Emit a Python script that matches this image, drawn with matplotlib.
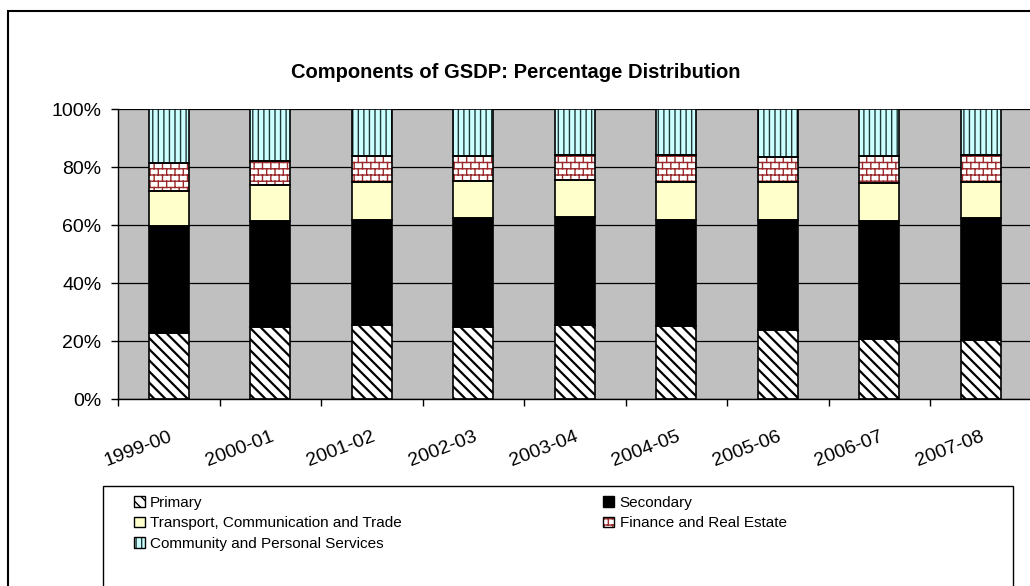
import numpy as np
import matplotlib
matplotlib.use("Agg")
import matplotlib.pyplot as plt
from matplotlib import hatch as mhatch
from matplotlib.patches import Patch, Rectangle
from matplotlib.path import Path

# shares of GSDP (%)
years = ["1999-00", "2000-01", "2001-02", "2002-03", "2003-04",
         "2004-05", "2005-06", "2006-07", "2007-08"]
primary = [22.9, 24.8, 25.6, 24.7, 25.6, 25.2, 23.8, 20.8, 20.3]
secondary = [36.9, 36.6, 36.1, 37.6, 37.2, 36.6, 38.0, 40.6, 42.0]
transport = [12.0, 12.3, 13.1, 13.0, 12.6, 13.0, 13.0, 13.0, 12.5]
finance = [9.5, 8.5, 9.0, 8.5, 8.7, 9.2, 8.8, 9.3, 9.3]
community = [18.7, 17.8, 16.2, 16.2, 15.9, 16.0, 16.4, 16.3, 15.9]

labels = ["Primary", "Secondary", "Transport, Communication and Trade",
          "Finance and Real Estate", "Community and Personal Services"]


class BrickHatch(mhatch.HatchPatternBase):
    # brick wall pattern, used for the '*' hatch character
    def __init__(self, hatch, density):
        self.rows = 16
        self.cols = 12
        n = self.rows + self.rows * self.cols if "*" in hatch else 0
        self.num_vertices = n * 2

    def set_vertices_and_codes(self, vertices, codes):
        segs = []
        for r in range(self.rows):
            y0 = r / self.rows
            y1 = (r + 1) / self.rows
            segs.append(((0, y0), (1, y0)))
            shift = 0.5 / self.cols if r % 2 else 0.0
            for c in range(self.cols):
                x = c / self.cols + shift
                segs.append(((x, y0), (x, y1)))
        vertices[:] = np.array(segs, dtype=float).reshape(-1, 2)
        codes[0::2] = Path.MOVETO
        codes[1::2] = Path.LINETO


mhatch._hatch_types = [h for h in mhatch._hatch_types if h is not mhatch.Stars] + [BrickHatch]

plt.rcParams["font.family"] = ["Liberation Sans", "DejaVu Sans"]

W, H = 1030, 586
fig = plt.figure(figsize=(W / 100, H / 100), dpi=100)

# plot area in pixels: left 118, right ~1031, top 109, bottom 399
ax = fig.add_axes([118 / W, (H - 399) / H, (1031.5 - 118) / W, 290 / H])
ax.set_facecolor("#C0C0C0")

x = np.arange(len(years))
width = 0.39
data = np.array([primary, secondary, transport, finance, community]) / 100.0
bottoms = np.vstack([np.zeros(len(years)), np.cumsum(data, axis=0)[:-1]])

styles = [
    # face, hatch, hatch colour, hatch lw
    ("white", "\\\\\\", "black", 1.6),
    ("black", None, "black", 1.0),
    ("#FFFFCC", None, "black", 1.0),
    ("white", "*", "#9B2A2A", 1.0),
    ("#CCFFFF", "|||", "#203838", 1.0),
]

handles = []
for i, (face, hatch, hcol, hlw) in enumerate(styles):
    with plt.rc_context({"hatch.linewidth": hlw}):
        bars = ax.bar(x, data[i], width, bottom=bottoms[i], color=face,
                      hatch=hatch, edgecolor=hcol, linewidth=0, zorder=2)
        for b in bars:
            if hasattr(b, "set_hatch_linewidth"):
                b.set_hatch_linewidth(hlw)
        h = Patch(facecolor=face, hatch=hatch, edgecolor=hcol, linewidth=0)
        if hasattr(h, "set_hatch_linewidth"):
            h.set_hatch_linewidth(hlw)
    # black outline on top of the hatch
    ax.bar(x, data[i], width, bottom=bottoms[i], fill=False,
           edgecolor="black", linewidth=1.2, zorder=3)
    handles.append((h, Patch(fill=False, edgecolor="black", linewidth=1.0)))

ax.set_xlim(-0.5, len(years) - 0.5)
ax.set_ylim(0, 1)
ax.set_yticks(np.arange(0, 1.01, 0.2))
ax.set_yticklabels([f"{int(round(v * 100))}%" for v in np.arange(0, 1.01, 0.2)])
ax.yaxis.grid(True, color="black", linewidth=0.9)
ax.set_axisbelow(True)

ax.set_xticks(x)
ax.set_xticklabels(years)
ax.set_xticks(np.arange(-0.5, len(years), 1.0), minor=True)
ax.tick_params(axis="x", which="major", length=0, pad=21, labelsize=14)
ax.tick_params(axis="x", which="minor", length=5, width=1, direction="out")
ax.tick_params(axis="y", length=5, width=1, direction="out", labelsize=14, pad=7)
for t in ax.get_xticklabels():
    t.set_rotation(21)
    t.set_ha("right")
    t.set_va("top")
    t.set_rotation_mode("anchor")

for s in ["top", "right"]:
    ax.spines[s].set_visible(False)
for s in ["left", "bottom"]:
    ax.spines[s].set_linewidth(1.0)

fig.text(516 / W, 1 - 73 / H, "Components of GSDP: Percentage Distribution",
         ha="center", va="center", fontsize=14.5, fontweight="bold")

# outer chart border (runs off the right and bottom edges)
fig.add_artist(Rectangle((8 / W, -0.1), 1.2, 1 - 11 / H + 0.1,
                         transform=fig.transFigure, fill=False,
                         edgecolor="black", linewidth=1.5))
# legend box
fig.add_artist(Rectangle((103 / W, -0.1), (1013 - 103) / W, 1 - 486 / H + 0.1,
                         transform=fig.transFigure, fill=False,
                         edgecolor="black", linewidth=1.0))

order = [0, 2, 4, 1, 3]
fig.legend([handles[k] for k in order], [labels[k] for k in order],
           ncol=2, loc="upper left", bbox_to_anchor=(134 / W, 1 - 496 / H),
           frameon=False, fontsize=11, handlelength=0.7, handleheight=0.7,
           handletextpad=0.35, labelspacing=0.42, columnspacing=13.2,
           borderpad=0, borderaxespad=0)

fig.savefig("out.png", dpi=100)
